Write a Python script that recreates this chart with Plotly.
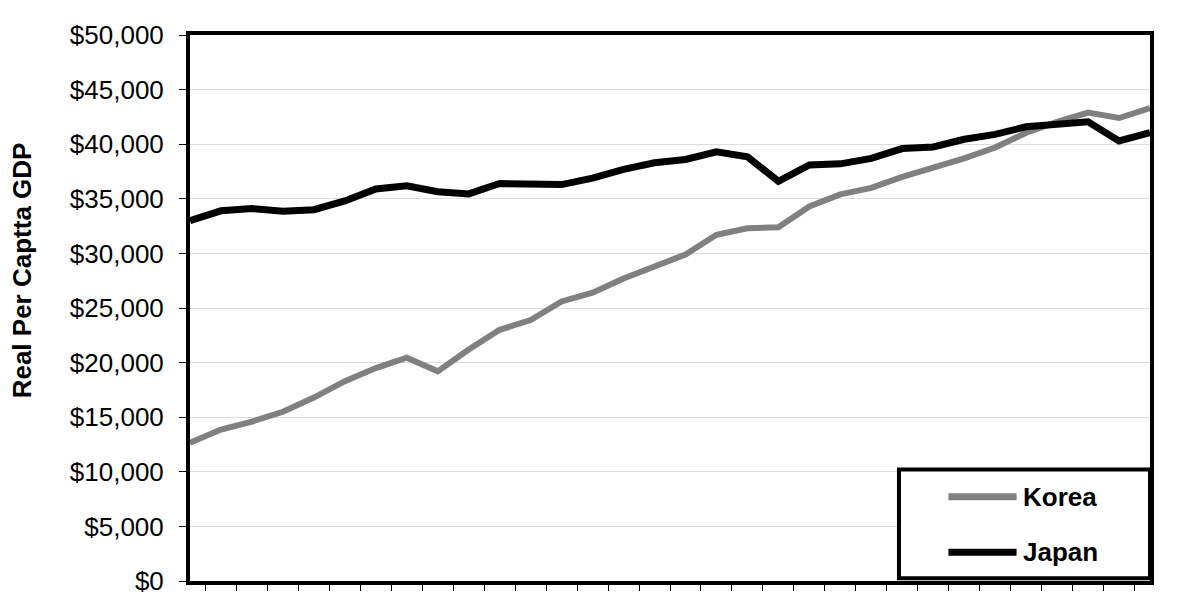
import plotly.graph_objects as go

# 32 annual observations (x labels are not shown in the source chart)
years = [str(y) for y in range(1980, 2012)]

korea = [12660, 13870, 14600, 15500, 16800, 18300, 19500, 20450,
         19200, 21200, 23000, 23900, 25600, 26400, 27700, 28800,
         29900, 31700, 32300, 32400, 34300, 35400, 36000, 37000,
         37800, 38700, 39700, 41050, 42050, 42900, 42400, 43300]

japan = [33000, 33900, 34100, 33850, 34000, 34800, 35900, 36200,
         35650, 35450, 36400, 36350, 36300, 36900, 37700, 38300,
         38600, 39300, 38850, 36600, 38100, 38200, 38700, 39600,
         39750, 40450, 40900, 41600, 41900, 42050, 40300, 41050]

series_names = ["Korea", "Japan"]
series_colors = ["#808080", "#000000"]

y_ticks = list(range(0, 50001, 5000))
y_tick_labels = ["$" + format(v, ",") for v in y_ticks]

FONT = "Liberation Sans, Arial, sans-serif"

fig = go.Figure()
fig.add_trace(go.Scatter(x=years, y=korea, mode="lines", name=series_names[0],
                         line=dict(color=series_colors[0], width=6)))
fig.add_trace(go.Scatter(x=years, y=japan, mode="lines", name=series_names[1],
                         line=dict(color=series_colors[1], width=7)))

# y title sits a little above the plot centre in the original, so use an annotation
fig.add_annotation(text="<b>Real Per Captta GDP</b>", textangle=-90,
                   xref="paper", yref="paper", x=-0.175, y=0.569,
                   xanchor="center", yanchor="middle",
                   showarrow=False, font=dict(family=FONT, size=26, color="black"))

# legend box drawn by hand (bottom right, flush with plot frame)
fig.add_shape(type="rect", xref="paper", yref="paper", x0=0.7385, x1=1.0, y0=0.005, y1=0.204,
              fillcolor="white", line=dict(color="black", width=4), layer="above")
leg_y = [0.1545, 0.0527]
for name, color, yy in zip(series_names, series_colors, leg_y):
    fig.add_shape(type="line", xref="paper", yref="paper", x0=0.79, x1=0.861, y0=yy, y1=yy,
                  line=dict(color=color, width=7), layer="above")
    fig.add_annotation(text="<b>" + name + "</b>", xref="paper", yref="paper",
                       x=0.866, y=yy, xanchor="left", yanchor="middle", showarrow=False,
                       font=dict(family=FONT, size=26, color="black"))

# the page body adds an 8px offset, margins account for it
fig.update_layout(
    width=1200, height=600,
    margin=dict(l=182, r=58, t=25, b=25),
    plot_bgcolor="white", paper_bgcolor="white",
    showlegend=False,
    font=dict(family=FONT, color="black"),
    xaxis=dict(type="category", showticklabels=False, showgrid=False, zeroline=False,
               ticks="outside", ticklen=6, tickcolor="black", tickwidth=1,
               tickson="boundaries",
               showline=True, linecolor="black", linewidth=4, mirror=True),
    yaxis=dict(range=[0, 50000], tickvals=y_ticks, ticktext=y_tick_labels,
               tickfont=dict(family=FONT, size=26, color="black"),
               ticks="outside", ticklen=7, tickcolor="black", tickwidth=1,
               ticklabelstandoff=10,
               showgrid=True, gridcolor="#dddddd", gridwidth=1, zeroline=False,
               showline=True, linecolor="black", linewidth=4, mirror=True),
)

fig.write_html("out.html")
